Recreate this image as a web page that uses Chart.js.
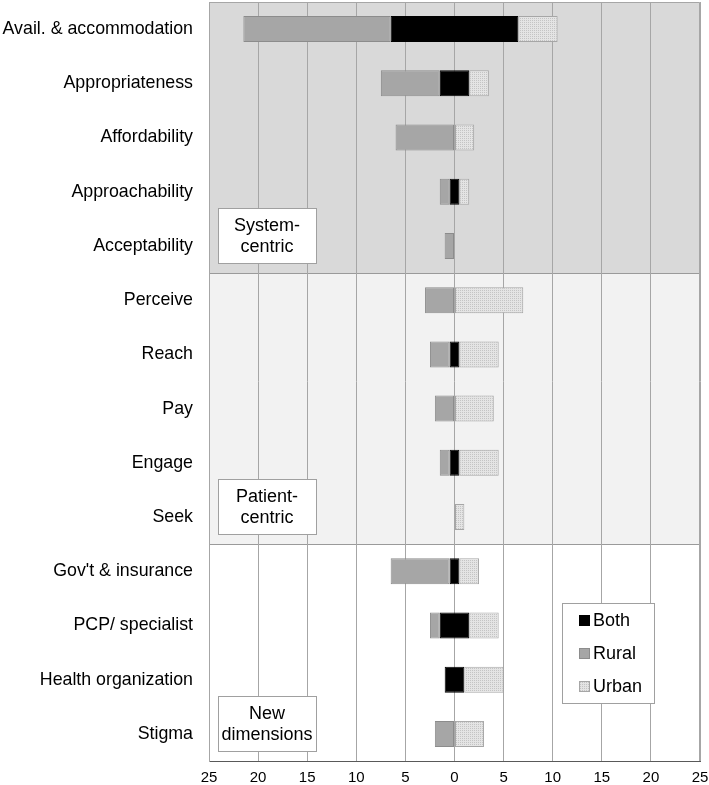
<!DOCTYPE html>
<html lang="en">
<head>
    <meta charset="UTF-8">
    <title>Access dimensions</title>
    <script src="https://cdn.jsdelivr.net/npm/chart.js"></script>
    <style>
        body { margin: 0; background: #fff; }
        #wrap { width: 709px; height: 785px; }
    </style>
</head>
<body>
    <div id="wrap"><canvas id="accessChart" width="709" height="785"></canvas></div>

    <script>
        // categories, top to bottom
        const categories = [
            'Avail. & accommodation', 'Appropriateness', 'Affordability', 'Approachability', 'Acceptability',
            'Perceive', 'Reach', 'Pay', 'Engage', 'Seek',
            "Gov't & insurance", 'PCP/ specialist', 'Health organization', 'Stigma'
        ];
        // counts per series (both is centred on zero, rural goes left, urban right)
        const bothValues  = [13, 3, 0, 1, 0, 0, 1, 0, 1, 0, 1, 3, 2, 0];
        const ruralValues = [15, 6, 6, 1, 1, 3, 2, 2, 1, 0, 6, 1, 0, 2];
        const urbanValues = [4, 2, 2, 1, 0, 7, 4, 4, 4, 1, 2, 3, 4, 3];
        const groupNames = [['System-', 'centric'], ['Patient-', 'centric'], ['New', 'dimensions']];
        const groupSizes = [5, 5, 4];
        const xTicks = [-25, -20, -15, -10, -5, 0, 5, 10, 15, 20, 25];

        const FONT = "'Liberation Sans', Arial, sans-serif";

        // dotted fill used for the urban bars
        function makeDots() {
            const c = document.createElement('canvas');
            c.width = 4; c.height = 4;
            const g = c.getContext('2d');
            g.fillStyle = '#e4e4e4';
            g.fillRect(0, 0, 4, 4);
            g.fillStyle = '#c4c4c4';
            g.fillRect(0, 0, 1, 1);
            g.fillRect(2, 2, 1, 1);
            g.fillRect(2, 0, 1, 1);
            g.fillRect(0, 2, 1, 1);
            return g.createPattern(c, 'repeat');
        }
        const urbanFill = makeDots();

        // floating bars built from the counts
        const bothBars = bothValues.map(b => b ? [-b / 2, b / 2] : null);
        const ruralBars = ruralValues.map((r, i) => r ? [-bothValues[i] / 2 - r, -bothValues[i] / 2] : null);
        const urbanBars = urbanValues.map((u, i) => u ? [bothValues[i] / 2, bothValues[i] / 2 + u] : null);

        const bands = ['#d9d9d9', '#f2f2f2', '#ffffff'];

        const bandPlugin = {
            id: 'bands',
            // shaded group bands behind the bars
            beforeDraw(chart) {
                const { ctx, chartArea, scales } = chart;
                const y = scales.y;
                let start = 0;
                ctx.save();
                groupSizes.forEach((n, gi) => {
                    const end = start + n - 1;
                    const top = start === 0 ? chartArea.top : (y.getPixelForValue(start - 1) + y.getPixelForValue(start)) / 2;
                    const bot = end === categories.length - 1 ? chartArea.bottom : (y.getPixelForValue(end) + y.getPixelForValue(end + 1)) / 2;
                    ctx.fillStyle = bands[gi];
                    ctx.fillRect(chartArea.left, top, chartArea.right - chartArea.left, bot - top);
                    if (gi > 0) {
                        ctx.strokeStyle = '#9a9a9a';
                        ctx.lineWidth = 1;
                        ctx.beginPath();
                        ctx.moveTo(chartArea.left, Math.round(top) + 0.5);
                        ctx.lineTo(chartArea.right, Math.round(top) + 0.5);
                        ctx.stroke();
                    }
                    start += n;
                });
                ctx.restore();
            },
            // group name boxes and the legend
            afterDatasetsDraw(chart) {
                const { ctx, chartArea, scales } = chart;
                const y = scales.y;
                let start = 0;
                ctx.save();
                ctx.font = '18px ' + FONT;
                ctx.textAlign = 'center';
                ctx.textBaseline = 'middle';
                ctx.lineWidth = 1;
                groupSizes.forEach((n, gi) => {
                    const last = start + n - 1;
                    const bx = chartArea.left + 9, bw = 98, bh = 55;
                    const by = Math.round(y.getPixelForValue(last) - 38);
                    ctx.fillStyle = '#fff';
                    ctx.fillRect(bx, by, bw, bh);
                    ctx.strokeStyle = '#a0a0a0';
                    ctx.strokeRect(bx + 0.5, by + 0.5, bw, bh);
                    ctx.fillStyle = '#000';
                    ctx.fillText(groupNames[gi][0], bx + bw / 2, by + 18);
                    ctx.fillText(groupNames[gi][1], bx + bw / 2, by + 39);
                    start += n;
                });

                const lx = 562, ly = 603, lw = 92, lh = 100;
                ctx.fillStyle = '#fff';
                ctx.fillRect(lx, ly, lw, lh);
                ctx.strokeStyle = '#a0a0a0';
                ctx.strokeRect(lx + 0.5, ly + 0.5, lw, lh);
                const items = [['Both', '#000', '#000'], ['Rural', '#a6a6a6', '#8c8c8c'], ['Urban', urbanFill, '#a6a6a6']];
                ctx.textAlign = 'left';
                items.forEach((it, k) => {
                    const iy = ly + 17 + k * 33;
                    ctx.fillStyle = it[1];
                    ctx.fillRect(lx + 17, iy - 5, 11, 11);
                    ctx.strokeStyle = it[2];
                    ctx.strokeRect(lx + 17.5, iy - 4.5, 10, 10);
                    ctx.fillStyle = '#000';
                    ctx.fillText(it[0], lx + 31, iy + 1);
                });
                ctx.restore();
            },
            // outer frame of the plot area
            afterDraw(chart) {
                const { ctx, chartArea: a } = chart;
                ctx.save();
                ctx.strokeStyle = '#a6a6a6';
                ctx.lineWidth = 1;
                ctx.beginPath();
                ctx.moveTo(a.left + 0.5, a.bottom);
                ctx.lineTo(a.left + 0.5, a.top + 0.5);
                ctx.lineTo(a.right - 0.5, a.top + 0.5);
                ctx.lineTo(a.right - 0.5, a.bottom);
                ctx.stroke();
                ctx.restore();
            }
        };

        new Chart(document.getElementById('accessChart').getContext('2d'), {
            type: 'bar',
            data: {
                labels: categories,
                datasets: [
                    { label: 'Rural', data: ruralBars, backgroundColor: '#a6a6a6', borderColor: '#8c8c8c', borderWidth: 1, borderSkipped: false },
                    { label: 'Urban', data: urbanBars, backgroundColor: urbanFill, borderColor: '#a6a6a6', borderWidth: 1, borderSkipped: false },
                    { label: 'Both', data: bothBars, backgroundColor: '#000', borderColor: '#000', borderWidth: 1, borderSkipped: false }
                ]
            },
            options: {
                indexAxis: 'y',
                responsive: false,
                animation: false,
                grouped: false,
                categoryPercentage: 1,
                barPercentage: 0.48,
                layout: { padding: { left: 0, right: 9, top: 2, bottom: 0 } },
                plugins: { legend: { display: false }, tooltip: { enabled: false } },
                scales: {
                    x: {
                        min: -25, max: 25,
                        afterBuildTicks: s => { s.ticks = xTicks.map(v => ({ value: v })); },
                        afterFit: s => { s.height = 24; s.paddingLeft = 0; s.paddingRight = 0; },
                        grid: { color: '#a6a6a6', drawTicks: false },
                        border: { color: '#595959' },
                        ticks: {
                            padding: 8,
                            color: '#000',
                            font: { family: FONT, size: 15 },
                            callback: v => Math.abs(v)
                        }
                    },
                    y: {
                        afterFit: s => { s.width = 209; s.paddingTop = 0; s.paddingBottom = 0; },
                        grid: { display: false, drawTicks: false },
                        border: { color: '#a6a6a6' },
                        ticks: {
                            padding: 16,
                            color: '#000',
                            font: { family: FONT, size: 17.8 }
                        }
                    }
                }
            },
            plugins: [bandPlugin]
        });
    </script>
</body>
</html>
